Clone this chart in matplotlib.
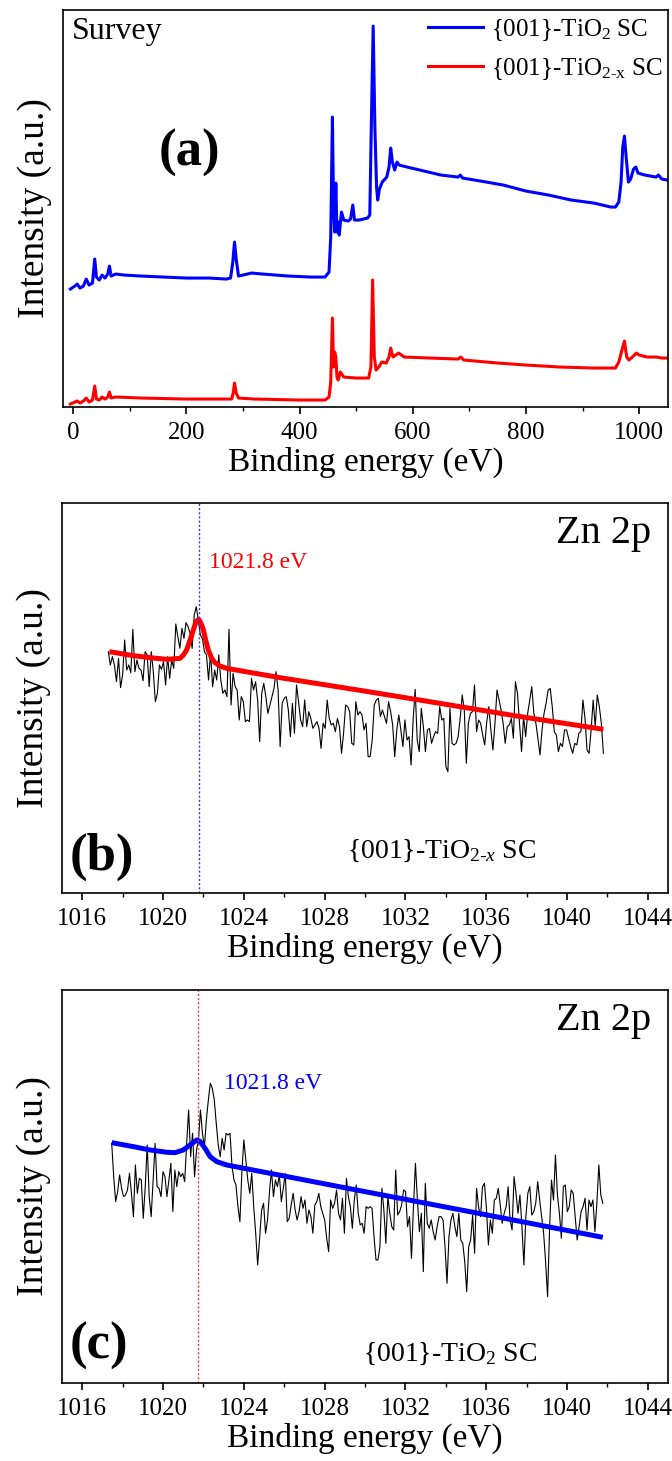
import numpy as np
import matplotlib
matplotlib.use("Agg")
import matplotlib.pyplot as plt
from matplotlib.ticker import MultipleLocator

plt.rcParams["font.family"] = ["Liberation Serif", "DejaVu Serif"]
plt.rcParams["mathtext.fontset"] = "custom"
plt.rcParams["mathtext.rm"] = "Liberation Serif"
plt.rcParams["mathtext.it"] = "Liberation Serif:italic"
plt.rcParams["mathtext.bf"] = "Liberation Serif:bold"

# ---------------- (a) survey spectra ----------------
survey_ev_blue = [-5, 3, 7, 12, 18, 23, 28, 34, 38, 41, 46, 51, 56, 61, 64, 67, 75, 90,
                  120, 160, 200, 240, 270, 278, 282, 285, 288, 292, 300, 315, 335, 380,
                  420, 445, 452, 455, 458, 460, 462, 464, 466, 468, 470, 474, 478, 486,
                  490, 494, 497, 505, 520, 524, 527, 530, 533, 536, 538, 541, 546, 554,
                  558, 561, 564, 568, 572, 576, 590, 620, 650, 680, 684, 688, 720, 760,
                  800, 840, 880, 920, 950, 958, 964, 968, 971, 974, 977, 981, 985, 990,
                  994, 998, 1010, 1030, 1034, 1040, 1050]
survey_blue = [118, 121, 123, 119, 121, 128, 122, 124, 148, 130, 127, 132, 129, 133, 141, 131,
               133, 132, 131, 130, 129, 129, 128, 129, 145, 165, 148, 131, 132, 134, 133, 131,
               130, 130, 135, 170, 290, 200, 175, 224, 175, 185, 172, 195, 187, 186,
               188, 202, 187, 187, 189, 192, 290, 381, 280, 220, 207, 218, 225, 230,
               240, 259, 245, 237, 245, 242, 240, 236, 232, 230, 232, 229, 226, 222,
               216, 212, 207, 204, 200, 200, 205, 225, 260, 271, 250, 225, 228, 238,
               240, 234, 232, 230, 232, 228, 227]

survey_ev_red = [-5, 3, 7, 12, 18, 23, 28, 34, 38, 41, 46, 51, 56, 61, 64, 67, 75, 120,
                 200, 270, 280, 283, 285, 288, 292, 320, 400, 445, 452, 455, 458, 460,
                 462, 464, 466, 468, 472, 478, 500, 522, 526, 529, 532, 535, 540, 545,
                 553, 558, 561, 565, 570, 575, 585, 630, 680, 685, 690, 750, 800, 860,
                 920, 958, 964, 971, 974, 978, 982, 988, 995, 1000, 1014, 1030, 1040, 1050]
survey_red = [3, 5, 6, 4, 6, 9, 5, 7, 21, 8, 7, 10, 8, 10, 15, 9, 10, 9,
              8, 8, 8, 15, 24, 14, 9, 8, 7, 7, 10, 25, 89, 40,
              55, 50, 30, 27, 35, 30, 29, 29, 40, 127, 50, 37, 40, 45,
              44, 50, 59, 50, 52, 54, 50, 49, 48, 50, 47, 44, 42, 40,
              39, 39, 45, 60, 66, 50, 47, 50, 54, 52, 50, 50, 49, 49]

# ---------------- (b) Zn 2p, {001}-TiO2-x SC ----------------
zn_b_start, zn_b_end = 1017.29, 1041.80
zn_b_counts = [
    815, 775, 800, 775, 725, 795, 707, 745, 850, 760, 775, 752, 882, 755, 790, 765, 760, 728, 815, 805,
    710, 815, 755, 665, 690, 775, 762, 785, 715, 800, 735, 790, 765, 898, 860, 825, 885, 855, 902, 890,
    870, 825, 925, 950, 910, 865, 855, 815, 805, 730, 810, 710, 760, 730, 805, 730, 690, 700, 680, 882,
    655, 750, 710, 700, 610, 680, 665, 605, 610, 605, 735, 700, 725, 670, 545, 690, 720, 680, 630, 655,
    680, 705, 755, 700, 530, 660, 675, 680, 640, 560, 660, 570, 715, 665, 610, 590, 670, 590, 635, 615,
    585, 595, 605, 585, 525, 600, 585, 670, 615, 595, 600, 575, 615, 590, 510, 570, 655, 650, 635,
    540, 535, 665, 625, 635, 625, 580, 600, 500, 500, 550, 655, 670, 675, 620, 640, 620, 600, 665, 635,
    595, 500, 580, 625, 580, 530, 610, 550, 560, 475, 610, 702, 550, 515, 645, 590, 515, 580, 585, 540,
    560, 575, 570, 650, 610, 615, 470, 455, 645, 540, 535, 540, 560, 615, 685, 640, 480, 600, 630, 635,
    715, 575, 610, 600, 565, 535, 605, 650, 580, 520, 600, 700, 670, 640, 600, 540, 590, 595, 615, 555,
    725, 690, 600, 515, 620, 560, 630, 670, 710, 630, 600, 555, 505, 580, 630, 660, 700, 705, 650, 575,
    565, 515, 540, 530, 580, 580, 555, 530, 510, 540, 535, 570, 575, 670, 615, 520, 510, 580, 670, 590,
    685, 650, 600, 510]
zn_b_fit_ev = [1017.34, 1018.53, 1019.36, 1020.18, 1020.84, 1021.01, 1021.17, 1021.34, 1021.50,
               1021.63, 1021.77, 1021.88, 1022.00, 1022.11, 1022.24, 1022.41, 1022.57, 1022.82,
               1023.15, 1025.79, 1029.75, 1033.30, 1037.50, 1041.80]
zn_b_fit = [815, 803, 797, 792, 795, 805, 820, 850, 880, 905, 912, 900, 880, 850, 820, 795, 782,
            772, 765, 737, 699, 664, 622, 582]

# ---------------- (c) Zn 2p, {001}-TiO2 SC ----------------
zn_c_start, zn_c_end = 1017.46, 1041.77
zn_c_counts = [
    810, 710, 635, 665, 715, 675, 650, 655, 670, 720, 660, 590, 745, 660, 705, 700, 585, 680, 805, 650,
    590, 700, 810, 680, 675, 650, 725, 710, 650, 700, 750, 605, 730, 680, 725, 710, 720, 695, 810, 910,
    770, 840, 710, 790, 820, 910, 840, 800, 880, 940, 990, 975, 940, 870, 805, 770, 825, 790, 840, 835,
    840, 740, 700, 685, 620, 575, 725, 820, 760, 700, 660, 720, 620, 540, 445, 525, 610, 630, 540, 580,
    665, 730, 650, 700, 680, 715, 635, 675, 720, 575, 585, 625, 660, 610, 580, 605, 650, 615, 640, 570,
    610, 590, 540, 625, 635, 660, 620, 600, 580, 525, 485, 640, 615, 630, 670, 600, 580, 645, 540, 705,
    650, 620,
    555, 640, 685, 600, 565, 570, 540, 620, 615, 620, 615, 530, 460, 460, 500, 675, 610, 510, 650, 600,
    560, 550, 730, 595, 605, 625, 670, 665, 560, 590, 465, 620, 750, 640, 545, 600, 425, 690, 570, 555,
    580, 545, 520, 560, 590, 590, 580, 500, 390, 530, 580, 600, 560, 530, 600, 520, 510, 455, 365, 500,
    520, 595, 480, 675, 620, 590, 680, 690, 615, 505, 580, 540, 640, 645, 675, 625, 570, 600, 620, 680,
    580, 550, 710, 660, 600, 655, 560, 445, 590, 660, 680, 595, 605, 630, 695, 640, 590, 540, 455, 350,
    550, 700, 640, 775, 655, 600, 525, 680, 685, 605, 620, 670, 660, 590, 520, 560, 605, 620, 645, 550,
    640, 620, 640, 545, 630, 745, 655, 630]
zn_c_fit_ev = [1017.46, 1018.53, 1019.36, 1020.20, 1020.60, 1021.00, 1021.34, 1021.67, 1021.83,
               1022.08, 1022.33, 1022.66, 1023.15, 1025.13, 1029.40, 1035.53, 1041.77]
zn_c_fit = [812, 800, 790, 783, 782, 790, 805, 820, 816, 795, 770, 755, 745, 722, 672, 601, 528]

peak_ev = 1021.8

fig = plt.figure(figsize=(6.72, 14.61), dpi=100)
ax_a = fig.add_axes([0.0938, 0.7214, 0.9003, 0.2717])
ax_b = fig.add_axes([0.0923, 0.3888, 0.9018, 0.2669])
ax_c = fig.add_axes([0.0923, 0.0534, 0.9018, 0.2690])

for ax in (ax_a, ax_b, ax_c):
    for s in ax.spines.values():
        s.set_linewidth(1.2)
    ax.set_yticks([])
    ax.tick_params(axis="x", which="major", direction="out", length=5, width=1.2,
                   labelsize=18, pad=5.5)
    ax.tick_params(axis="x", which="minor", direction="out", length=3, width=1.0)
    ax.set_ylabel("Intensity (a.u.)", fontsize=27)
    ax.yaxis.set_label_coords(-0.018, 0.5)
    ax.set_xlabel("Binding energy (eV)", fontsize=24, labelpad=2.5)

# (a)
ax_a.plot(survey_ev_blue, survey_blue, color="#0000ff", lw=2.2,
          label=r"{001}-TiO$_{2}$ SC")
ax_a.plot(survey_ev_red, survey_red, color="#ff0000", lw=2.2,
          label=r"{001}-TiO$_{2\text{-}\mathrm{x}}$ SC")
ax_a.set_xlim(-18, 1051)
ax_a.set_ylim(0, 397)
ax_a.xaxis.set_major_locator(MultipleLocator(200))
ax_a.xaxis.set_minor_locator(MultipleLocator(100))
ax_a.legend(loc="upper right", bbox_to_anchor=(1.0, 0.995), frameon=False, fontsize=18,
            handlelength=2.2, handletextpad=0.35, labelspacing=0.5, borderaxespad=0.1,
            borderpad=0.1)
ax_a.text(0.015, 0.945, "Survey", transform=ax_a.transAxes, fontsize=23,
          ha="left", va="center")
ax_a.text(0.158, 0.64, "(a)", transform=ax_a.transAxes, fontsize=38,
          fontweight="bold", ha="left", va="center")

# (b)
ev_b = np.linspace(zn_b_start, zn_b_end, len(zn_b_counts))
ax_b.plot(ev_b, zn_b_counts, color="black", lw=0.8)
ax_b.plot(zn_b_fit_ev, zn_b_fit, color="#ff0000", lw=3.6, solid_capstyle="butt")
ax_b.axvline(peak_ev, color="#3333ff", lw=1.0, ls=(0, (1.5, 1.5)))
ax_b.text(1022.3, 1084, "1021.8 eV", color="#ff0000", fontsize=17, ha="left", va="center")
ax_b.set_ylim(91, 1261)

# (c)
ev_c = np.linspace(zn_c_start, zn_c_end, len(zn_c_counts))
ax_c.plot(ev_c, zn_c_counts, color="black", lw=0.8)
ax_c.plot(zn_c_fit_ev, zn_c_fit, color="#0000ff", lw=3.6, solid_capstyle="butt")
ax_c.axvline(peak_ev - 0.05, color="#ff3333", lw=1.0, ls=(0, (1.5, 1.5)))
ax_c.text(1023.0, 988, "1021.8 eV", color="#0000ff", fontsize=17, ha="left", va="center")
ax_c.set_ylim(91, 1270)

for ax, tag, lab, ly in ((ax_b, "(b)", r"{001}-TiO$_{2\text{-}x}$ SC", 0.108),
                         (ax_c, "(c)", r"{001}-TiO$_{2}$ SC", 0.075)):
    ax.set_xlim(1015, 1045)
    ax.xaxis.set_major_locator(MultipleLocator(4))
    ax.xaxis.set_minor_locator(MultipleLocator(2))
    ax.text(0.972, 0.923, "Zn 2p", transform=ax.transAxes, fontsize=29,
            ha="right", va="center")
    ax.text(0.012, 0.093, tag, transform=ax.transAxes, fontsize=38,
            fontweight="bold", ha="left", va="center")
    ax.text(0.47 if tag == "(b)" else 0.497, ly, lab, transform=ax.transAxes,
            fontsize=20, ha="left", va="center")

fig.savefig("out.png", dpi=100)
